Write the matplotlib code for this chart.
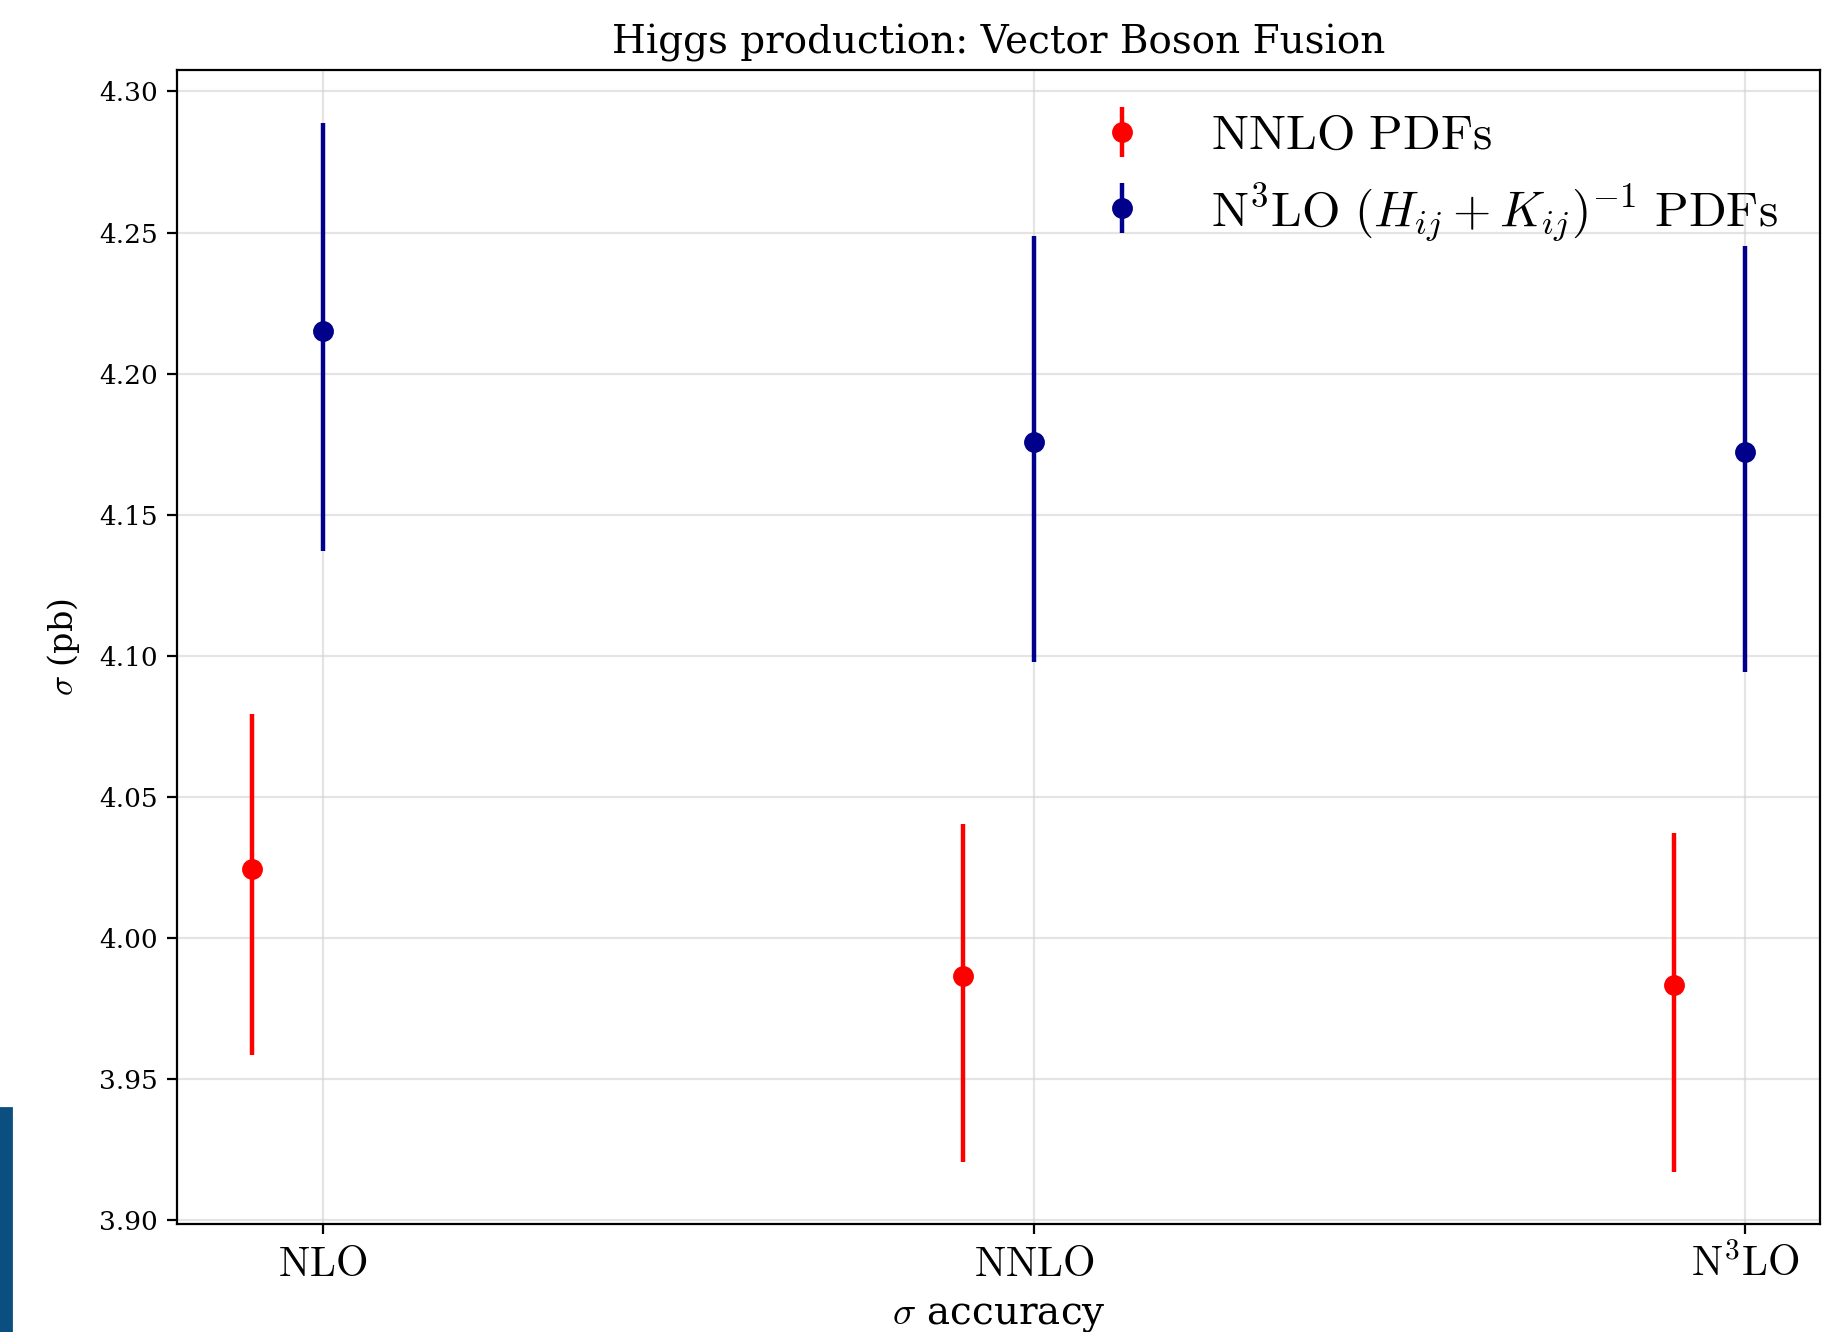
import numpy as np
import matplotlib.pyplot as plt
from matplotlib.patches import Rectangle

plt.rcParams['font.family'] = 'serif'
plt.rcParams['font.serif'] = ['DejaVu Serif']
plt.rcParams['mathtext.fontset'] = 'cm'

orders = [r'$\mathrm{NLO}$', r'$\mathrm{NNLO}$', r'$\mathrm{N^3LO}$']
xpos = np.array([0, 1, 2])

# NNLO PDFs
nnlo_val = [4.0245, 3.9866, 3.9833]
nnlo_up = [0.055, 0.054, 0.054]
nnlo_down = [0.066, 0.066, 0.066]

# N3LO (H+K)^-1 PDFs
n3lo_val = [4.215, 4.1759, 4.1722]
n3lo_up = [0.074, 0.073, 0.073]
n3lo_down = [0.078, 0.078, 0.078]

fig = plt.figure(figsize=(9.14, 6.66), dpi=200)
ax = fig.add_axes([0.0968, 0.0811, 0.8988, 0.8663])

ax.errorbar(xpos - 0.1, nnlo_val, yerr=[nnlo_down, nnlo_up], fmt='o', color='red',
            markersize=6.5, elinewidth=1.6, label=r'$\mathrm{NNLO\ PDFs}$')
ax.errorbar(xpos, n3lo_val, yerr=[n3lo_down, n3lo_up], fmt='o', color='darkblue',
            markersize=6.5, elinewidth=1.6,
            label=r'$\mathrm{N^3LO}\ (H_{ij}+K_{ij})^{-1}\ \mathrm{PDFs}$')

ax.set_xticks(xpos)
ax.set_xticklabels(orders, fontsize=15)
ax.tick_params(axis='y', labelsize=9.5)
ax.grid(True, color='lightgray', alpha=0.6, linewidth=0.8)

ax.set_title('Higgs production: Vector Boson Fusion', fontsize=14)
ax.set_ylabel(r'$\sigma$ (pb)', fontsize=12, labelpad=6)
ax.set_xlabel(r'$\sigma$ accuracy', fontsize=14)

ax.legend(loc='upper right', frameon=False, fontsize=17.8, numpoints=1,
          labelspacing=0.42, borderaxespad=0.45)

fig.patches.append(Rectangle((0, 0), 11 / 1828, (1332 - 1108) / 1332,
                             transform=fig.transFigure, color='#0a4f80', zorder=-1))

fig.savefig('out.png', dpi=200)
